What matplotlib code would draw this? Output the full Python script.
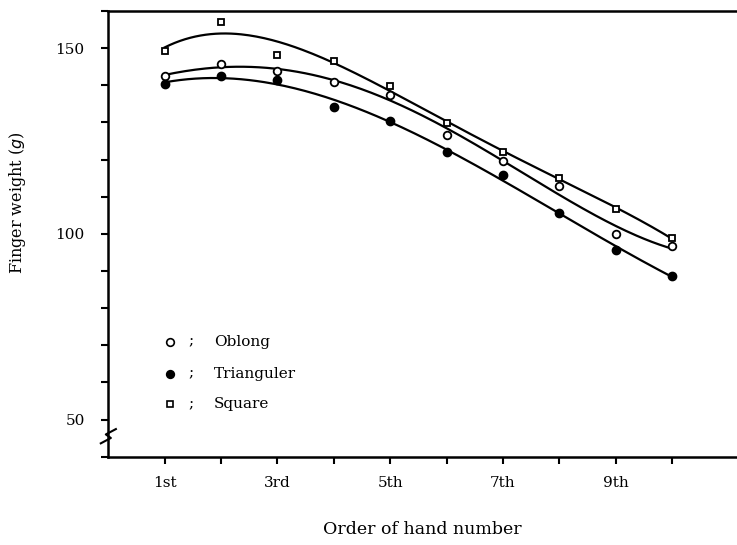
import numpy as np
import matplotlib
matplotlib.use("Agg")
import matplotlib.pyplot as plt
from matplotlib.ticker import MultipleLocator, FixedLocator

plt.rcParams['font.family'] = ['DejaVu Serif']

order = [1, 2, 3, 4, 5, 6, 7, 8, 9, 10]
oblong = [142.5, 145.6, 143.8, 140.9, 137.4, 126.6, 119.6, 112.9, 99.9, 96.6]
trianguler = [140.3, 142.5, 141.4, 134.2, 130.4, 121.9, 115.7, 105.7, 95.7, 88.7]
square = [149.3, 157.1, 148.1, 146.5, 139.8, 129.8, 122.1, 115.0, 106.7, 98.8]
tick_pos = [1, 3, 5, 7, 9]
tick_labels = ["1st", "3rd", "5th", "7th", "9th"]

fig = plt.figure(figsize=(7.37, 5.45), dpi=100)
ax = fig.add_axes([0.147, 0.162, 0.853, 0.818])

x = np.array(order, dtype=float)
xs = np.linspace(1, 10, 200)
for vals, deg in ((square, 4), (oblong, 4), (trianguler, 3)):
    c = np.polyfit(x, np.array(vals), deg)
    ax.plot(xs, np.polyval(c, xs), color='black', lw=1.6, zorder=2)

ax.plot(order, oblong, 'o', ms=5.5, mfc='white', mec='black', mew=1.3, zorder=3)
ax.plot(order, trianguler, 'o', ms=6, mfc='black', mec='black', zorder=3)
ax.plot(order, square, 's', ms=5, mfc='white', mec='black', mew=1.3, zorder=3)

ax.set_xlim(0, 11.15)
ax.set_ylim(40, 160)
ax.set_xticks(tick_pos)
ax.set_xticklabels(tick_labels)
ax.xaxis.set_minor_locator(FixedLocator([2, 4, 6, 8, 10]))
ax.set_yticks([50, 100, 150])
ax.yaxis.set_minor_locator(MultipleLocator(10))
ax.tick_params(axis='both', which='both', direction='out', width=1.5, labelsize=11)
ax.tick_params(axis='x', which='both', length=5, pad=9)
ax.tick_params(axis='y', which='both', length=5, pad=12)

for s in ('left', 'bottom', 'top'):
    ax.spines[s].set_linewidth(1.8)
ax.spines['right'].set_visible(False)

ax.set_xlabel("Order of hand number", fontsize=12.5, labelpad=22)
ax.set_ylabel(r"Finger weight ($\mathit{g}$)", fontsize=11.5)
ax.yaxis.set_label_coords(-0.128, 0.57)

# axis break mark
ax.plot([-0.012, 0.004, -0.004, 0.012], [0.03, 0.042, 0.05, 0.062],
        transform=ax.transAxes, color='black', lw=1.5, clip_on=False)

# legend
leg = [('o', 'white', 'Oblong'), ('o', 'black', 'Trianguler'), ('s', 'white', 'Square')]
ys = [0.258, 0.186, 0.118]
for (m, fc, lab), yy in zip(leg, ys):
    ax.plot([0.0985], [yy], m, ms=5 if m == 's' else 5.5, mfc=fc, mec='black', mew=1.2,
            transform=ax.transAxes, clip_on=False)
    ax.text(0.131, yy, ";", transform=ax.transAxes, ha='center', va='center', fontsize=11)
    ax.text(0.168, yy, lab, transform=ax.transAxes, ha='left', va='center', fontsize=11)

fig.savefig("out.png", dpi=100)
